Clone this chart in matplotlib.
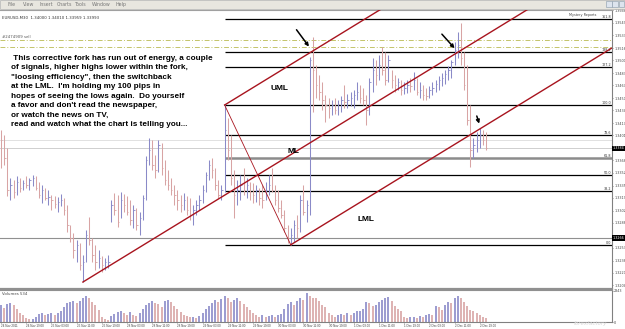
import matplotlib.pyplot as plt
from matplotlib.patches import Rectangle

# H1 bars (index 0 = 24 Nov 11:00)
highs = [1.3408, 1.3402, 1.3384, 1.3345, 1.3342, 1.3348, 1.3345, 1.3342, 1.3348, 1.3345,
         1.3349, 1.3348, 1.3340, 1.3336, 1.3332, 1.3329, 1.3323, 1.3321, 1.3320, 1.3324,
         1.3319, 1.3309, 1.3283, 1.3273, 1.3263, 1.3259, 1.3244, 1.3277, 1.3294, 1.3266,
         1.3257, 1.3250, 1.3242, 1.3240, 1.3244, 1.3316, 1.3325, 1.3323, 1.3327, 1.3324,
         1.3321, 1.3316, 1.3309, 1.3306, 1.3300, 1.3323, 1.3374, 1.3398, 1.3395, 1.3375,
         1.3395, 1.3391, 1.3369, 1.3355, 1.3345, 1.3336, 1.3329, 1.3323, 1.3325, 1.3321,
         1.3319, 1.3309, 1.3316, 1.3323, 1.3336, 1.3353, 1.3369, 1.3371, 1.3358, 1.3342,
         1.3336, 1.3441, 1.3424, 1.3402, 1.3355, 1.3342, 1.3349, 1.3358, 1.3345, 1.3340,
         1.3338, 1.3336, 1.3332, 1.3336, 1.3340, 1.3349, 1.3358, 1.3336, 1.3329, 1.3316,
         1.3303, 1.3283, 1.3279, 1.3290, 1.3296, 1.3323, 1.3336, 1.3316, 1.3504, 1.3531,
         1.3494, 1.3480, 1.3471, 1.3454, 1.3450, 1.3448, 1.3450, 1.3448, 1.3453, 1.3467,
         1.3455, 1.3458, 1.3461, 1.3471, 1.3467, 1.3463, 1.3454, 1.3477, 1.3503, 1.3500,
         1.3507, 1.3517, 1.3511, 1.3507, 1.3487, 1.3480, 1.3477, 1.3474, 1.3471, 1.3474,
         1.3477, 1.3484, 1.3477, 1.3471, 1.3467, 1.3463, 1.3466, 1.3471, 1.3474, 1.3479,
         1.3483, 1.3487, 1.3492, 1.3500, 1.3524, 1.3537, 1.3549, 1.3511, 1.3494, 1.3441,
         1.3398, 1.3405, 1.3411, 1.3408, 1.3405]
lows = [1.3358, 1.3362, 1.3321, 1.3316, 1.3319, 1.3323, 1.3327, 1.3329, 1.3332, 1.3329,
        1.3334, 1.3329, 1.3319, 1.3312, 1.3316, 1.3309, 1.3303, 1.3306, 1.3300, 1.3308,
        1.3296, 1.3274, 1.3261, 1.3240, 1.3234, 1.3224, 1.3208, 1.3234, 1.3257, 1.3234,
        1.3224, 1.3227, 1.3221, 1.3224, 1.3227, 1.3287, 1.3296, 1.3280, 1.3292, 1.3300,
        1.3296, 1.3283, 1.3279, 1.3277, 1.3270, 1.3290, 1.3316, 1.3362, 1.3355, 1.3345,
        1.3353, 1.3349, 1.3336, 1.3329, 1.3323, 1.3309, 1.3303, 1.3300, 1.3303, 1.3296,
        1.3290, 1.3283, 1.3296, 1.3303, 1.3312, 1.3327, 1.3342, 1.3345, 1.3329, 1.3319,
        1.3316, 1.3327, 1.3369, 1.3336, 1.3292, 1.3309, 1.3316, 1.3323, 1.3319, 1.3316,
        1.3312, 1.3313, 1.3309, 1.3306, 1.3316, 1.3323, 1.3327, 1.3309, 1.3300, 1.3292,
        1.3274, 1.3259, 1.3257, 1.3261, 1.3266, 1.3274, 1.3296, 1.3287, 1.3296, 1.3432,
        1.3450, 1.3448, 1.3434, 1.3419, 1.3424, 1.3428, 1.3429, 1.3428, 1.3432, 1.3437,
        1.3437, 1.3440, 1.3437, 1.3448, 1.3444, 1.3441, 1.3415, 1.3428, 1.3458, 1.3467,
        1.3474, 1.3480, 1.3467, 1.3471, 1.3463, 1.3458, 1.3461, 1.3454, 1.3455, 1.3457,
        1.3458, 1.3461, 1.3454, 1.3450, 1.3448, 1.3448, 1.3450, 1.3454, 1.3458, 1.3461,
        1.3466, 1.3469, 1.3474, 1.3477, 1.3494, 1.3503, 1.3494, 1.3461, 1.3415, 1.3359,
        1.3371, 1.3379, 1.3384, 1.3388, 1.3382]
closes = [1.3395, 1.3371, 1.3329, 1.3336, 1.3327, 1.3340, 1.3332, 1.3338, 1.3336, 1.3342,
          1.3345, 1.3332, 1.3323, 1.3329, 1.3319, 1.3320, 1.3316, 1.3311, 1.3313, 1.3316,
          1.3303, 1.3283, 1.3266, 1.3250, 1.3257, 1.3230, 1.3234, 1.3270, 1.3263, 1.3244,
          1.3234, 1.3240, 1.3230, 1.3234, 1.3234, 1.3309, 1.3303, 1.3287, 1.3316, 1.3309,
          1.3300, 1.3290, 1.3303, 1.3283, 1.3292, 1.3319, 1.3369, 1.3382, 1.3362, 1.3355,
          1.3388, 1.3358, 1.3342, 1.3336, 1.3329, 1.3323, 1.3316, 1.3309, 1.3316, 1.3303,
          1.3296, 1.3303, 1.3309, 1.3316, 1.3329, 1.3349, 1.3362, 1.3355, 1.3336, 1.3323,
          1.3329, 1.3408, 1.3382, 1.3345, 1.3323, 1.3329, 1.3336, 1.3329, 1.3336, 1.3327,
          1.3323, 1.3329, 1.3319, 1.3316, 1.3329, 1.3336, 1.3329, 1.3316, 1.3306, 1.3296,
          1.3279, 1.3266, 1.3270, 1.3283, 1.3279, 1.3316, 1.3300, 1.3309, 1.3500, 1.3487,
          1.3467, 1.3458, 1.3448, 1.3441, 1.3437, 1.3441, 1.3434, 1.3442, 1.3448, 1.3445,
          1.3448, 1.3450, 1.3454, 1.3458, 1.3450, 1.3448, 1.3434, 1.3471, 1.3487, 1.3480,
          1.3494, 1.3487, 1.3474, 1.3500, 1.3474, 1.3467, 1.3471, 1.3461, 1.3463, 1.3467,
          1.3466, 1.3474, 1.3458, 1.3461, 1.3454, 1.3453, 1.3461, 1.3463, 1.3469, 1.3474,
          1.3477, 1.3482, 1.3487, 1.3498, 1.3513, 1.3520, 1.3503, 1.3467, 1.3421, 1.3382,
          1.3388, 1.3395, 1.3402, 1.3395, 1.3384]
volumes = [1250, 1050, 1350, 1450, 1250, 1000, 700, 500, 300, 200,
           250, 350, 600, 700, 550, 600, 700, 500, 650, 800,
           1100, 1400, 1500, 1550, 1450, 1600, 1750, 1950, 1800, 1500,
           1300, 900, 400, 250, 150, 450, 600, 750, 850, 650,
           500, 750, 550, 450, 650, 950, 1250, 1450, 1550, 1450,
           1350, 1150, 1550, 1650, 1500, 1200, 950, 750, 550, 450,
           350, 400, 300, 450, 700, 1000, 1200, 1400, 1650, 1500,
           1700, 1950, 1750, 1500, 1650, 1800, 1600, 1350, 1100, 900,
           650, 550, 400, 500, 350, 450, 550, 350, 500, 600,
           1000, 1350, 1500, 1300, 1550, 1750, 1650, 2150, 1900, 1800,
           1750, 1600, 1300, 1100, 700, 500, 400, 550, 600, 500,
           650, 550, 700, 800, 850, 1000, 1500, 1450, 1200, 1250,
           1500, 1650, 1800, 1850, 1600, 1200, 1000, 800, 400, 300,
           350, 400, 300, 450, 350, 500, 600, 550, 1200, 1100,
           900, 1300, 1500, 1400, 1750, 1900, 1800, 1500, 1200, 900,
           800, 650, 500, 400, 300]

time_labels = ["24 Nov 2011", "24 Nov 19:00", "25 Nov 03:00", "25 Nov 11:00", "25 Nov 19:00",
               "28 Nov 03:00", "28 Nov 11:00", "28 Nov 19:00", "29 Nov 03:00", "29 Nov 11:00",
               "29 Nov 19:00", "30 Nov 03:00", "30 Nov 11:00", "30 Nov 19:00", "1 Dec 03:00",
               "1 Dec 11:00", "1 Dec 19:00", "2 Dec 03:00", "2 Dec 11:00", "2 Dec 19:00"]
price_ticks = [1.3566, 1.3549, 1.3533, 1.3516, 1.3500, 1.3483, 1.3467, 1.3450, 1.3434,
               1.3417, 1.3401, 1.3368, 1.3352, 1.3335, 1.3319, 1.3302, 1.3286, 1.3253,
               1.3236, 1.3220, 1.3204]

# pitchfork pivots (bar indices)
i0, i1, i2 = 26, 71, 92
fib_ratios = [0.0, 0.382, 0.5, 0.618, 0.786, 1.0, 1.272, 1.382, 1.618]
fib_names = ["0.0", "38.2", "50.0", "61.8", "78.6", "100.0", "127.2", "138.2", "161.8"]
sell_levels = [1.3527, 1.3517]
stop_level = 1.3266
ask_level = 1.3395

text_lines = [" This corrective fork has run out of energy, a couple",
              "of signals, higher highs lower within the fork,",
              "\"loosing efficiency\", then the switchback",
              "at the LML.  I'm holding my 100 pips in",
              "hopes of seeing the lows again.  Do yourself",
              "a favor and don't read the newspaper,",
              "or watch the news on TV,",
              "read and watch what the chart is telling you..."]

W, H = 625, 329
UP = '#8a8ac8'
DN = '#d8a4a4'
FORK = '#a8141e'
XMAX = 194.0
TINY = 2.4

fig = plt.figure(figsize=(6.25, 3.29), dpi=100)
fig.patch.set_facecolor('white')

# window menu bar
fig.patches.append(Rectangle((0, 1 - 9 / H), 1, 9 / H, transform=fig.transFigure,
                             facecolor='#e8e6df', edgecolor='#b0b0b0', lw=0.5))
for x, s in zip([8, 23, 39, 57, 75, 92, 115],
                ["File", "View", "Insert", "Charts", "Tools", "Window", "Help"]):
    fig.text(x / W, 1 - 4.5 / H, s, fontsize=3.4, color='#777777', va='center')
for k in range(3):
    fig.patches.append(Rectangle(((606 + 6.3 * k) / W, 1 - 7 / H), 5.5 / W, 6 / H,
                                 transform=fig.transFigure, facecolor='#dde4ee',
                                 edgecolor='#8899aa', lw=0.4))

ax = fig.add_axes([0, 0.1231, 612 / W, 0.848])
axv = fig.add_axes([0, 7 / H, 612 / W, 32.5 / H])

n = len(closes)
xs = list(range(n))
cols = []
for i in range(n):
    prev = closes[i - 1] if i > 0 else highs[0]
    cols.append(UP if closes[i] >= prev else DN)

ax.vlines(xs, lows, highs, colors=cols, lw=0.75, zorder=3)
ax.hlines(closes, [x for x in xs], [x + 0.45 for x in xs], colors=cols, lw=0.6, zorder=3)

# full width lines
for lv in sell_levels:
    ax.axhline(lv, color='#c4c46a', lw=0.7, ls=(0, (5, 2, 1, 2)), zorder=2)
ax.axhline(stop_level, color='#909090', lw=0.8, zorder=2)
ax.axhline(closes[-1], color='#c8c8c8', lw=0.6, zorder=2)
ax.axhline(ask_level, color='#dcdcdc', lw=0.6, zorder=2)

# fibonacci levels from the pitchfork swing
lo, hi = lows[i2], highs[i1]
for r, name in zip(fib_ratios, fib_names):
    lv = lo + r * (hi - lo)
    if name == "61.8":
        ax.hlines(lv, i1, XMAX, color='#8c8c8c', lw=1.8, zorder=2)
    else:
        ax.hlines(lv, i1, XMAX, color='black', lw=0.9, zorder=2)
    ax.text(XMAX - 0.3, lv, name, fontsize=TINY, ha='right', va='bottom', color='#333333')

# Andrews pitchfork
p0 = (i0, lows[i0])
p1 = (i1, highs[i1])
p2 = (i2, lows[i2])
mid = ((p1[0] + p2[0]) / 2, (p1[1] + p2[1]) / 2)
slope = (mid[1] - p0[1]) / (mid[0] - p0[0])
for px, py in [p0, p1, p2]:
    ax.plot([px, XMAX], [py, py + slope * (XMAX - px)], color=FORK, lw=1.0, zorder=4)
ax.plot([p1[0], p2[0]], [p1[1], p2[1]], color=FORK, lw=0.6, zorder=4)

for s, x, y in [("UML", 88.3, 1.3463), ("ML", 93.0, 1.3380), ("LML", 116.0, 1.3290)]:
    ax.text(x, y, s, fontsize=6.0, fontweight='bold', family='Liberation Sans',
            ha='center', va='center', zorder=5)

for (x0, y0), (x1, y1) in [((93.3, 1.3543), (98.3, 1.3515)),
                           ((139.4, 1.3537), (144.6, 1.3513)),
                           ((150.8, 1.3430), (152.1, 1.3413))]:
    ax.annotate("", xy=(x1, y1), xytext=(x0, y0), zorder=6,
                arrowprops=dict(arrowstyle='-|>', color='black', lw=1.1, mutation_scale=5))

ax.set_xlim(-0.32, XMAX)
ax.set_ylim(1.31995, 1.35667)
ax.yaxis.tick_right()
ax.set_yticks(price_ticks)
ax.set_yticklabels([f"{t:.4f}" for t in price_ticks])
ax.tick_params(axis='y', labelsize=TINY, length=1.0, width=0.4, pad=0.6, colors='#444444')
ax.set_xticks([])
ax.spines['left'].set_visible(False)
ax.spines['right'].set_color('#808080')
ax.spines['top'].set_color('#a0a0a0')
ax.spines['bottom'].set_color('#909090')
ax.spines['bottom'].set_linewidth(1.6)
for y in [closes[-1], stop_level]:
    ax.text(1.001, y, f"{y:.4f}", transform=ax.get_yaxis_transform(), fontsize=TINY,
            color='white', va='center', ha='left',
            bbox=dict(facecolor='black', edgecolor='none', pad=0.4))

ax.text(0.003, 1.3556, "EURUSD,M30  1.34000 1.34010 1.33959 1.33993",
        transform=ax.get_yaxis_transform(), fontsize=2.8, color='#333333', va='center')
ax.text(0.003, 1.3530, "#2474909 sell", transform=ax.get_yaxis_transform(),
        fontsize=2.8, color='#555555', va='center')
ax.text(0.975, 0.988, "Mystery Reports", transform=ax.transAxes, fontsize=TINY,
        color='#444444', ha='right', va='top')

for k, line in enumerate(text_lines):
    fig.text(11 / W, 1 - (58.3 + 9.5 * k) / H, line, fontsize=5.85, fontweight='bold',
             family='Liberation Sans', va='center', ha='left')

# volume panel
vcols = []
for i in range(n):
    vcols.append(UP if i == 0 or volumes[i] >= volumes[i - 1] else DN)
axv.vlines(xs, 0, volumes, colors=vcols, lw=1.2)
axv.set_xlim(-0.32, XMAX)
axv.set_ylim(0, 2420)
axv.yaxis.tick_right()
axv.set_yticks([0, 2343])
axv.set_yticklabels(["0", "2343"])
axv.tick_params(axis='y', labelsize=TINY, length=1.0, width=0.4, pad=0.6, colors='#444444')
axv.set_xticks(range(0, 8 * len(time_labels), 8))
axv.set_xticklabels(time_labels, ha='left', family='Liberation Sans')
axv.tick_params(axis='x', labelsize=2.2, length=1.0, width=0.4, pad=0.5, colors='#444444')
axv.spines['left'].set_visible(False)
axv.spines['top'].set_color('#909090')
axv.spines['right'].set_color('#808080')
axv.spines['bottom'].set_color('#808080')
axv.text(0.004, 0.93, "Volumes 534", transform=axv.transAxes, fontsize=2.8,
         color='#444444', va='top')
fig.text(607 / W, 4 / H, "forexfactory", fontsize=4, color='#d8d8d8', ha='right',
         style='italic')

fig.savefig("out.png", dpi=100)
